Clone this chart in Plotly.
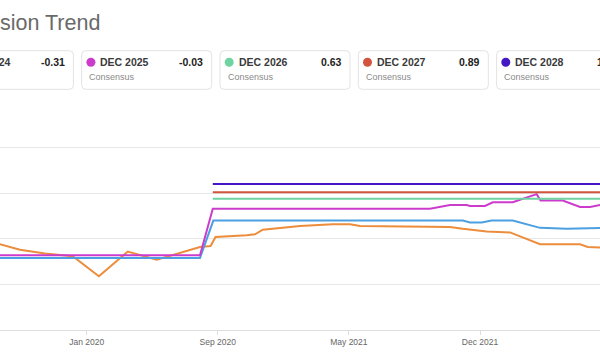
import plotly.graph_objects as go

# ---------------- data ----------------
orange_dates = ["2019-07-30", "2019-09-22", "2019-11-06", "2019-12-26", "2020-02-11",
                "2020-04-03", "2020-05-25", "2020-08-11", "2020-08-30", "2020-09-08",
                "2020-11-03", "2020-11-18", "2020-12-02", "2021-02-07", "2021-04-07",
                "2021-05-08", "2021-05-26", "2021-11-04", "2021-11-27", "2021-12-15",
                "2022-01-09", "2022-02-20", "2022-04-15", "2022-06-26", "2022-07-10",
                "2022-08-19"]
orange_vals = [-0.53, -0.62, -0.66, -0.69, -0.91, -0.64, -0.73, -0.59, -0.58, -0.48,
               -0.46, -0.45, -0.40, -0.36, -0.34, -0.34, -0.36, -0.37, -0.39, -0.40,
               -0.42, -0.43, -0.56, -0.56, -0.59, -0.60]

blue_dates = ["2019-07-30", "2020-08-11", "2020-09-04", "2021-11-27", "2021-12-10",
              "2021-12-31", "2022-01-18", "2022-02-25", "2022-04-15", "2022-06-02",
              "2022-08-19"]
blue_vals = [-0.71, -0.71, -0.30, -0.30, -0.32, -0.32, -0.30, -0.30, -0.38, -0.39, -0.38]

magenta_dates = ["2019-07-30", "2020-08-11", "2020-09-03", "2021-09-29", "2021-11-04",
                 "2021-12-04", "2021-12-10", "2022-01-06", "2022-01-20", "2022-02-25",
                 "2022-04-09", "2022-04-16", "2022-05-26", "2022-06-26", "2022-07-14",
                 "2022-08-19"]
magenta_vals = [-0.68, -0.68, -0.17, -0.17, -0.13, -0.13, -0.14, -0.14, -0.10, -0.10,
                -0.01, -0.08, -0.08, -0.15, -0.15, -0.11]

green_dates = ["2020-09-03", "2022-08-19"]
green_vals = [-0.06, -0.06]
red_dates = ["2020-09-03", "2022-08-19"]
red_vals = [0.01, 0.01]
purple_dates = ["2020-09-03", "2022-08-19"]
purple_vals = [0.10, 0.10]

tick_dates = ["2020-01-20", "2020-09-12", "2021-05-06", "2021-12-28"]
tick_labels = ["Jan 2020", "Sep 2020", "May 2021", "Dec 2021"]

card_labels = ["DEC 2024", "DEC 2025", "DEC 2026", "DEC 2027", "DEC 2028"]
card_values = ["-0.31", "-0.03", "0.63", "0.89", "1.14"]

C_ORANGE = "#ec8d3c"
C_BLUE = "#4c9fe0"
C_MAGENTA = "#cc3ccc"
C_GREEN = "#6fd3a2"
C_RED = "#d2533f"
C_PURPLE = "#4318c4"
card_colors = [C_BLUE, C_MAGENTA, C_GREEN, C_RED, C_PURPLE]

FONT = "Liberation Sans, Arial, Helvetica, sans-serif"

# ---------------- figure ----------------
W, H = 600, 362
T, B = 102, 32
PH = H - T - B

fig = go.Figure()
for xs, ys, col in [(orange_dates, orange_vals, C_ORANGE),
                    (blue_dates, blue_vals, C_BLUE),
                    (magenta_dates, magenta_vals, C_MAGENTA),
                    (green_dates, green_vals, C_GREEN),
                    (red_dates, red_vals, C_RED),
                    (purple_dates, purple_vals, C_PURPLE)]:
    fig.add_trace(go.Scatter(x=xs, y=ys, mode="lines",
                             line=dict(color=col, width=2),
                             showlegend=False, hoverinfo="skip"))


def px_x(p):
    return p / W


def px_y(p):
    return (H - B - p) / PH


shapes = []
annotations = []

# title
annotations.append(dict(xref="paper", yref="paper", x=px_x(102), y=px_y(23),
                        xanchor="right", yanchor="middle", showarrow=False,
                        text="EPS Revision Trend",
                        font=dict(family=FONT, size=21.5, color="#6a6a6a")))

# cards
CARD_W, CARD_PITCH, LEFT0 = 130, 138.3, -56.6
TOP, BOT = 50.7, 89.3
R = 4
for i, (lab, val, col) in enumerate(zip(card_labels, card_values, card_colors)):
    l = LEFT0 + i * CARD_PITCH
    r = l + CARD_W
    x0, x1 = px_x(l), px_x(r)
    y0, y1 = px_y(BOT), px_y(TOP)
    rx, ry = R / W, R / PH
    path = (f"M {x0+rx},{y1} L {x1-rx},{y1} Q {x1},{y1} {x1},{y1-ry} "
            f"L {x1},{y0+ry} Q {x1},{y0} {x1-rx},{y0} L {x0+rx},{y0} "
            f"Q {x0},{y0} {x0},{y0+ry} L {x0},{y1-ry} Q {x0},{y1} {x0+rx},{y1} Z")
    shapes.append(dict(type="path", xref="paper", yref="paper", path=path,
                       line=dict(color="#e3e3e3", width=1), fillcolor="white",
                       layer="above"))
    cx, cy = l + 9.2, 62.3
    shapes.append(dict(type="circle", xref="paper", yref="paper",
                       x0=px_x(cx - 4.5), x1=px_x(cx + 4.5),
                       y0=px_y(cy + 4.5), y1=px_y(cy - 4.5),
                       fillcolor=col, line=dict(width=0), layer="above"))
    annotations.append(dict(xref="paper", yref="paper", x=px_x(l + 16.5), y=px_y(62.3),
                            xanchor="left", yanchor="middle", showarrow=False,
                            text=f"<b>{lab}</b>",
                            font=dict(family=FONT, size=10.5, color="#3a3a3a")))
    annotations.append(dict(xref="paper", yref="paper", x=px_x(l + 123.5), y=px_y(62.3),
                            xanchor="right", yanchor="middle", showarrow=False,
                            text=f"<b>{val}</b>",
                            font=dict(family=FONT, size=10.5, color="#222222")))
    annotations.append(dict(xref="paper", yref="paper", x=px_x(l + 5.5), y=px_y(76.7),
                            xanchor="left", yanchor="middle", showarrow=False,
                            text="Consensus",
                            font=dict(family=FONT, size=9, color="#8a8a8a")))

fig.update_layout(
    template="none",
    width=W, height=H,
    margin=dict(l=0, r=0, t=T, b=B, pad=0),
    paper_bgcolor="white", plot_bgcolor="white",
    shapes=shapes, annotations=annotations,
    font=dict(family=FONT),
)
fig.update_xaxes(type="date", range=["2019-08-17", "2022-08-01"],
                 tickvals=tick_dates, ticktext=tick_labels,
                 showgrid=False, zeroline=False, showline=True,
                 linecolor="#dedede", linewidth=1,
                 ticks="outside", ticklen=4, tickcolor="#dedede",
                 tickfont=dict(family=FONT, size=8.5, color="#666666"),
                 automargin=False, fixedrange=True)
fig.update_yaxes(range=[-1.5, 1.0], tick0=0, dtick=0.5,
                 showgrid=True, gridcolor="#e8e8e8", gridwidth=1,
                 showticklabels=False, zeroline=False, showline=False,
                 ticks="", automargin=False, fixedrange=True)

fig.write_html("out.html",
               config={"displayModeBar": False, "staticPlot": True},
               post_script="document.body.style.margin='0';"
                           "document.body.style.overflow='hidden';")
